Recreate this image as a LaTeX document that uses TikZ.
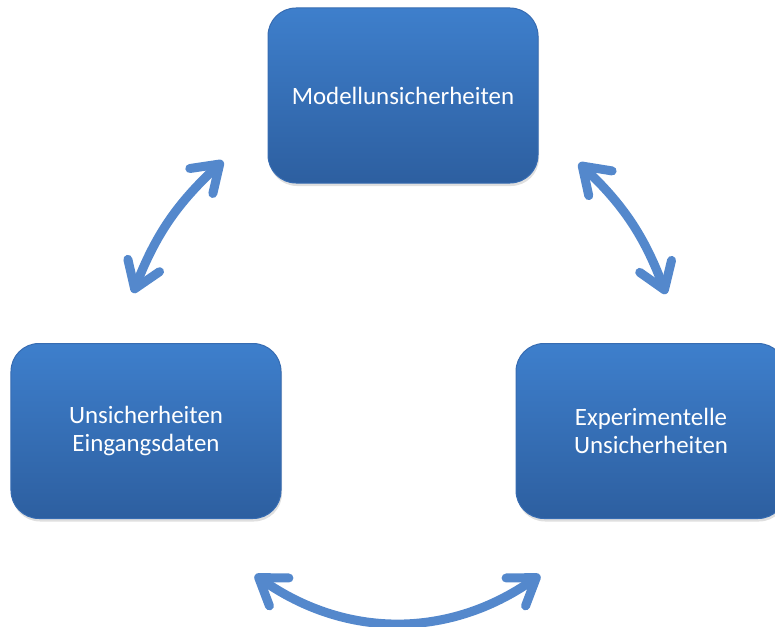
\documentclass[tikz,border=0pt]{standalone}
\usepackage{fontspec}
\setmainfont{Carlito}
\usepackage{tikz}
\usetikzlibrary{arrows.meta,positioning,shadows}

\definecolor{boxtop}{RGB}{62,127,204}
\definecolor{boxbottom}{RGB}{45,95,160}
\definecolor{boxedge}{RGB}{55,108,178}
\definecolor{arrowblue}{RGB}{84,136,204}

\begin{document}
\begin{tikzpicture}[x=1bp, y=-1bp,
    every node/.style={font=\fontsize{25}{28}\selectfont},
    unsbox/.style={rounded corners=28bp, minimum width=270bp, minimum height=175bp,
        top color=boxtop, bottom color=boxbottom, draw=boxedge, line width=1bp,
        text=white, align=center,
        drop shadow={opacity=0.25, shadow xshift=1bp, shadow yshift=-3bp}},
    dblarrow/.style={draw=arrowblue, line width=9bp, line cap=round,
        {Straight Barb[round, length=25bp, width=34bp]}-{Straight Barb[round, length=25bp, width=34bp]}}]
    \useasboundingbox (0,0) rectangle (775,627);

    % Uncertainty boxes
    \node[unsbox] (modell) at (403,95.5) {Modellunsicherheiten};
    \node[unsbox] (eingang) at (146,431) {Unsicherheiten\\Eingangsdaten};
    \node[unsbox] (experiment) at (651,431) {Experimentelle\\Unsicherheiten};

    % Arrow end points
    \coordinate (eingang-end) at (133,293);
    \coordinate (modell-left) at (223,161);
    \coordinate (modell-right) at (579,163);
    \coordinate (experiment-end) at (666,294);
    \coordinate (bottom-left) at (255,575);
    \coordinate (bottom-right) at (540,575);

    % Double arrows between the boxes
    \draw[dblarrow] (eingang-end) to[bend left=13] (modell-left);
    \draw[dblarrow] (modell-right) to[bend left=13] (experiment-end);
    \draw[dblarrow] (bottom-left) to[bend right=35] (bottom-right);
\end{tikzpicture}
\end{document}
